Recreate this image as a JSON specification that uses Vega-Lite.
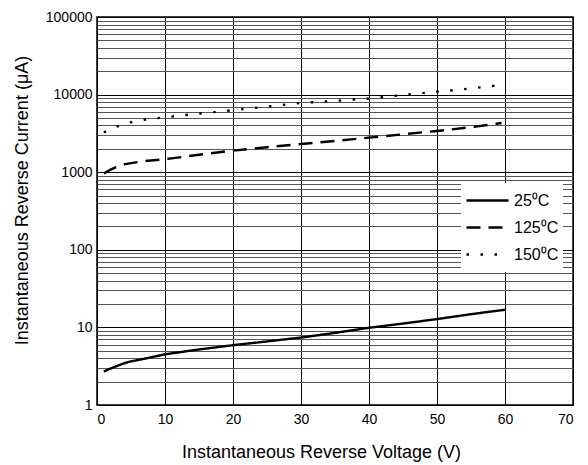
{
  "$schema": "https://vega.github.io/schema/vega-lite/v6.json",
  "autosize": {"type": "none"},
  "width": 476,
  "height": 388,
  "padding": {"left": 97, "top": 17, "right": 15, "bottom": 60},
  "background": "white",
  "config": {
    "font": "Liberation Sans",
    "view": {"stroke": "black", "strokeWidth": 1.5},
    "axis": {"labelFont": "Liberation Sans", "titleFont": "Liberation Sans", "labelColor": "black", "titleColor": "black", "titleFontWeight": "normal", "labelFontSize": 14, "titleFontSize": 18, "ticks": false, "domain": false}
  },
  "data": {
    "values": [
      {"series": "25⁰C", "v": 1, "i": 2.7},
      {"series": "25⁰C", "v": 2, "i": 2.95},
      {"series": "25⁰C", "v": 3, "i": 3.2},
      {"series": "25⁰C", "v": 4, "i": 3.45},
      {"series": "25⁰C", "v": 5, "i": 3.65},
      {"series": "25⁰C", "v": 7, "i": 3.95},
      {"series": "25⁰C", "v": 10, "i": 4.5},
      {"series": "25⁰C", "v": 15, "i": 5.2},
      {"series": "25⁰C", "v": 20, "i": 5.9},
      {"series": "25⁰C", "v": 25, "i": 6.6},
      {"series": "25⁰C", "v": 30, "i": 7.4},
      {"series": "25⁰C", "v": 35, "i": 8.5},
      {"series": "25⁰C", "v": 40, "i": 9.9},
      {"series": "25⁰C", "v": 45, "i": 11.2},
      {"series": "25⁰C", "v": 50, "i": 12.8},
      {"series": "25⁰C", "v": 55, "i": 14.8},
      {"series": "25⁰C", "v": 60, "i": 16.9},
      {"series": "125⁰C", "v": 1, "i": 960},
      {"series": "125⁰C", "v": 2, "i": 1080},
      {"series": "125⁰C", "v": 3, "i": 1180},
      {"series": "125⁰C", "v": 4, "i": 1260},
      {"series": "125⁰C", "v": 5, "i": 1310},
      {"series": "125⁰C", "v": 7, "i": 1390},
      {"series": "125⁰C", "v": 10, "i": 1470},
      {"series": "125⁰C", "v": 15, "i": 1680},
      {"series": "125⁰C", "v": 20, "i": 1900},
      {"series": "125⁰C", "v": 25, "i": 2100},
      {"series": "125⁰C", "v": 30, "i": 2310},
      {"series": "125⁰C", "v": 35, "i": 2530},
      {"series": "125⁰C", "v": 40, "i": 2790},
      {"series": "125⁰C", "v": 45, "i": 3080},
      {"series": "125⁰C", "v": 50, "i": 3400},
      {"series": "125⁰C", "v": 55, "i": 3800},
      {"series": "125⁰C", "v": 59.5, "i": 4300},
      {"series": "150⁰C", "v": 1, "i": 3250},
      {"series": "150⁰C", "v": 3, "i": 3900},
      {"series": "150⁰C", "v": 5, "i": 4400},
      {"series": "150⁰C", "v": 7, "i": 4750},
      {"series": "150⁰C", "v": 10, "i": 5100},
      {"series": "150⁰C", "v": 15, "i": 5700},
      {"series": "150⁰C", "v": 20, "i": 6300},
      {"series": "150⁰C", "v": 25, "i": 7000},
      {"series": "150⁰C", "v": 30, "i": 7800},
      {"series": "150⁰C", "v": 35, "i": 8300},
      {"series": "150⁰C", "v": 40, "i": 8900},
      {"series": "150⁰C", "v": 45, "i": 9900},
      {"series": "150⁰C", "v": 50, "i": 10900},
      {"series": "150⁰C", "v": 55, "i": 12000},
      {"series": "150⁰C", "v": 58.5, "i": 13000}
    ]
  },
  "mark": {"type": "line", "color": "black", "strokeWidth": 2.4, "clip": true},
  "encoding": {
    "x": {
      "field": "v", "type": "quantitative",
      "scale": {"domain": [0, 70], "nice": false, "zero": false},
      "axis": {"values": [0, 10, 20, 30, 40, 50, 60, 70], "grid": true, "gridColor": "black", "gridOpacity": 1, "gridWidth": 1, "labelPadding": 7, "title": "Instantaneous Reverse Voltage (V)", "titlePadding": 17, "titleX": 224, "titleAlign": "center"}
    },
    "y": {
      "field": "i", "type": "quantitative",
      "scale": {"type": "log", "domain": [1, 100000], "nice": false},
      "axis": {
        "values": [1,2,3,4,5,6,7,8,9,10,20,30,40,50,60,70,80,90,100,200,300,400,500,600,700,800,900,1000,2000,3000,4000,5000,6000,7000,8000,9000,10000,20000,30000,40000,50000,60000,70000,80000,90000,100000],
        "format": "d",
        "labelExpr": "indexof([1,10,100,1000,10000,100000], datum.value) >= 0 ? datum.label : ''",
        "grid": true,
        "gridOpacity": 1,
        "gridWidth": 1,
        "gridColor": {"condition": {"test": "indexof([1,10,100,1000,10000,100000], datum.value) >= 0", "value": "black"}, "value": "#555555"},
        "labelPadding": 5,
        "labelOverlap": false,
        "title": "Instantaneous Reverse Current (μA)",
        "titlePadding": 14,
        "titleY": 183,
        "titleAlign": "center"
      }
    },
    "detail": {"field": "series"},
    "strokeDash": {
      "field": "series", "type": "nominal",
      "scale": {"domain": ["25⁰C", "125⁰C", "150⁰C"], "range": [[1, 0], [14, 8], [2.5, 11.5]]},
      "legend": {
        "title": null,
        "orient": "none",
        "legendX": 364,
        "legendY": 166,
        "fillColor": "white",
        "padding": 4,
        "symbolType": "stroke",
        "symbolSize": 1764,
        "symbolStrokeWidth": 2.4,
        "symbolStrokeColor": "black",
        "clipHeight": 27,
        "rowPadding": 0,
        "labelFontSize": 16,
        "labelFont": "Liberation Sans",
        "labelColor": "black",
        "labelOffset": 4
      }
    }
  }
}
